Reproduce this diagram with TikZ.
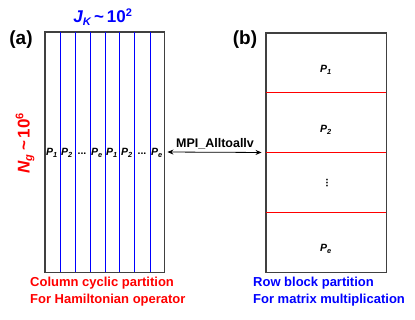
\documentclass[tikz,border=0pt]{standalone}
\usepackage{fontspec}
\setmainfont{Liberation Sans}
\usetikzlibrary{positioning,arrows.meta}

\begin{document}
\begin{tikzpicture}[
  x=1pt, y=-1pt,
  font=\bfseries,
  >={Stealth[length=6pt,width=5pt]},
  % matrix frames
  block/.style={draw=black!75, line width=0.9pt, inner sep=0pt},
  proc/.style={font=\bfseries\itshape\fontsize{10.5}{11}\selectfont, inner sep=0pt},
  panel/.style={font=\bfseries\fontsize{19}{21}\selectfont},
  caption/.style={font=\bfseries\fontsize{13}{17}\selectfont, align=left, anchor=north west, inner sep=0pt},
  bigsym/.style={font=\bfseries\itshape\fontsize{17}{19}\selectfont},
]

% fixed canvas
\useasboundingbox (0,0) rectangle (415,320);

% ---------------------------------------------------------------
% (a) column cyclic partition
% ---------------------------------------------------------------
\node[panel] (la) at (21,40) {(a)};
\node[block, minimum width=119pt, minimum height=240pt] (ham) at (104.5,152) {};
\foreach \x in {60,75,90,105,119.5,134.5,150}
  \draw[blue, line width=0.9pt] (\x,32) -- (\x,272);
\draw[black!75, line width=0.9pt] (ham.north west) rectangle (ham.south east);

\node[bigsym, text=blue] (jk) at (103,17)
  {J\textsubscript{\fontsize{11}{11}\selectfont K}\,\upshape\textasciitilde\,10\textsuperscript{\fontsize{11}{11}\selectfont 2}};
\node[bigsym, text=red, rotate=90] (ng) at (25,143)
  {N\textsubscript{\fontsize{11}{11}\selectfont g}\,\upshape\textasciitilde\,10\textsuperscript{\fontsize{11}{11}\selectfont 6}};

% processor labels between the columns
\node[proc] (p1) at (52,153) {P\textsubscript{1}};
\node[proc] (p2) at (67,153) {P\textsubscript{2}};
\node[proc] (d1) at (82,154) {\upshape...};
\node[proc] (pe) at (97,153) {P\textsubscript{e}};
\node[proc] (q1) at (112,153) {P\textsubscript{1}};
\node[proc] (q2) at (127,153) {P\textsubscript{2}};
\node[proc] (d2) at (142,154) {\upshape...};
\node[proc] (qe) at (157,153) {P\textsubscript{e}};

\node[caption, text=red] (capa) at (30,277)
  {Column cyclic partition\\For Hamiltonian operator};

% ---------------------------------------------------------------
% (b) row block partition
% ---------------------------------------------------------------
\node[panel] (lb) at (245,40) {(b)};
\node[block, minimum width=120pt, minimum height=239pt] (mat) at (326,152.5) {};
\foreach \y in {92,152,212}
  \draw[red, line width=0.9pt] (266,\y) -- (386,\y);
\draw[black!75, line width=0.9pt] (mat.north west) rectangle (mat.south east);

\node[proc] (r1) at (326,70) {P\textsubscript{1}};
\node[proc] (r2) at (326,130) {P\textsubscript{2}};
\node[proc, rotate=90] (rd) at (327,183) {\upshape...};
\node[proc] (re) at (326,249) {P\textsubscript{e}};

\node[caption, text=blue] (capb) at (253,277)
  {Row block partition\\For matrix multiplication};

% ---------------------------------------------------------------
% redistribution between the two layouts
% ---------------------------------------------------------------
\draw[<->, line width=0.8pt, shorten <=3pt, shorten >=4pt] (ham.east) --
  node[above, font=\bfseries\fontsize{12.5}{14}\selectfont, inner sep=3pt] {MPI\_Alltoallv}
  (mat.west);

\end{tikzpicture}
\end{document}
